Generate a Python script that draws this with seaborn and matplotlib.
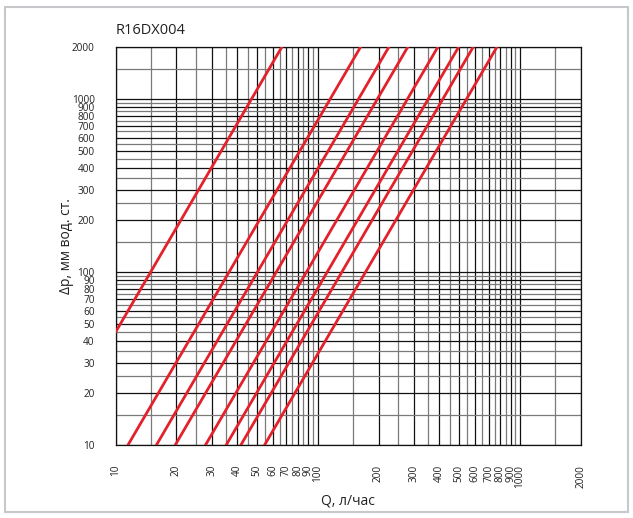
import numpy as np
import pandas as pd
import matplotlib
matplotlib.use("Agg")
import matplotlib.pyplot as plt
import seaborn as sns
from matplotlib.ticker import FixedLocator, NullFormatter, FixedFormatter
from matplotlib.patches import Rectangle

# Data: each curve as start/end points (Q in l/h, dp in mm w.c.)
curve_ids = ["c1", "c2", "c3", "c4", "c5", "c6", "c7", "c8"]
q_start = [10.0, 11.5, 15.9, 19.7, 27.8, 35.2, 41.6, 54.5]
dp_start = [45, 10, 10, 10, 10, 10, 10, 10]
q_end = [66.5, 163, 225, 279, 393, 498, 588, 770]
dp_end = [2000, 2000, 2000, 2000, 2000, 2000, 2000, 2000]

x_tick_values = [10, 20, 30, 40, 50, 60, 70, 80, 90, 100, 200, 300, 400, 500,
                 600, 700, 800, 900, 1000, 2000]
y_tick_values = [10, 20, 30, 40, 50, 60, 70, 80, 90, 100, 200, 300, 400, 500,
                 600, 700, 800, 900, 1000, 2000]
x_minor_values = [15, 25, 35, 45, 55, 65, 75, 85, 95, 150, 250, 350, 450, 550,
                  650, 750, 850, 950, 1500]
y_minor_values = [15, 25, 35, 45, 55, 65, 75, 85, 95, 150, 250, 350, 450, 550,
                  650, 750, 850, 950, 1500]

rows = []
for cid, qs, ds, qe, de in zip(curve_ids, q_start, dp_start, q_end, dp_end):
    rows.append({"curve": cid, "Q": qs, "dp": ds})
    rows.append({"curve": cid, "Q": qe, "dp": de})
df = pd.DataFrame(rows)

sns.set_style("white")
plt.rcParams["font.family"] = ["Open Sans", "DejaVu Sans"]

fig = plt.figure(figsize=(6.33, 5.18), dpi=100)
ax = fig.add_axes([0.1825, 0.1403, 0.9174 - 0.1825, 0.9093 - 0.1403])

ax.set_xscale("log")
ax.set_yscale("log")
ax.set_xlim(10, 2000)
ax.set_ylim(10, 2000)

# grid
ax.xaxis.set_major_locator(FixedLocator(x_tick_values))
ax.xaxis.set_major_formatter(FixedFormatter([str(v) for v in x_tick_values]))
ax.xaxis.set_minor_locator(FixedLocator(x_minor_values))
ax.xaxis.set_minor_formatter(NullFormatter())
ax.yaxis.set_major_locator(FixedLocator(y_tick_values))
ax.yaxis.set_major_formatter(FixedFormatter([str(v) for v in y_tick_values]))
ax.yaxis.set_minor_locator(FixedLocator(y_minor_values))
ax.yaxis.set_minor_formatter(NullFormatter())

ax.grid(True, which="major", color="#111111", linewidth=0.9)
ax.grid(True, which="minor", color="#7a7a7a", linewidth=0.9)
ax.set_axisbelow(True)

sns.lineplot(data=df, x="Q", y="dp", hue="curve",
             palette=["#e3212b"] * len(curve_ids), linewidth=2.0,
             legend=False, ax=ax, zorder=5)

ax.tick_params(axis="x", which="major", length=0, pad=14, labelsize=7.2,
               labelrotation=90, colors="#222222")
ax.tick_params(axis="y", which="major", length=14, width=0.9, pad=1,
               labelsize=7.2, colors="#222222")
ax.tick_params(which="minor", length=0)
for lbl in ax.get_xticklabels():
    lbl.set_verticalalignment("top")

for s in ax.spines.values():
    s.set_color("#111111")
    s.set_linewidth(0.9)

ax.set_xlabel("Q, л/час", fontsize=10, color="#222222", labelpad=4)
ax.set_ylabel("Δp, мм вод. ст.", fontsize=10, color="#222222", labelpad=-2)
ax.text(0.0, 1.022, "R16DX004", transform=ax.transAxes, fontsize=10.5,
        color="#222222", ha="left", va="bottom")

# outer light frame
fig.patches.append(Rectangle((5 / 633, 6 / 518), 623 / 633, 505 / 518,
                             transform=fig.transFigure, fill=False,
                             edgecolor="#c8c8cc", linewidth=1.5))

fig.savefig("out.png", dpi=100)
